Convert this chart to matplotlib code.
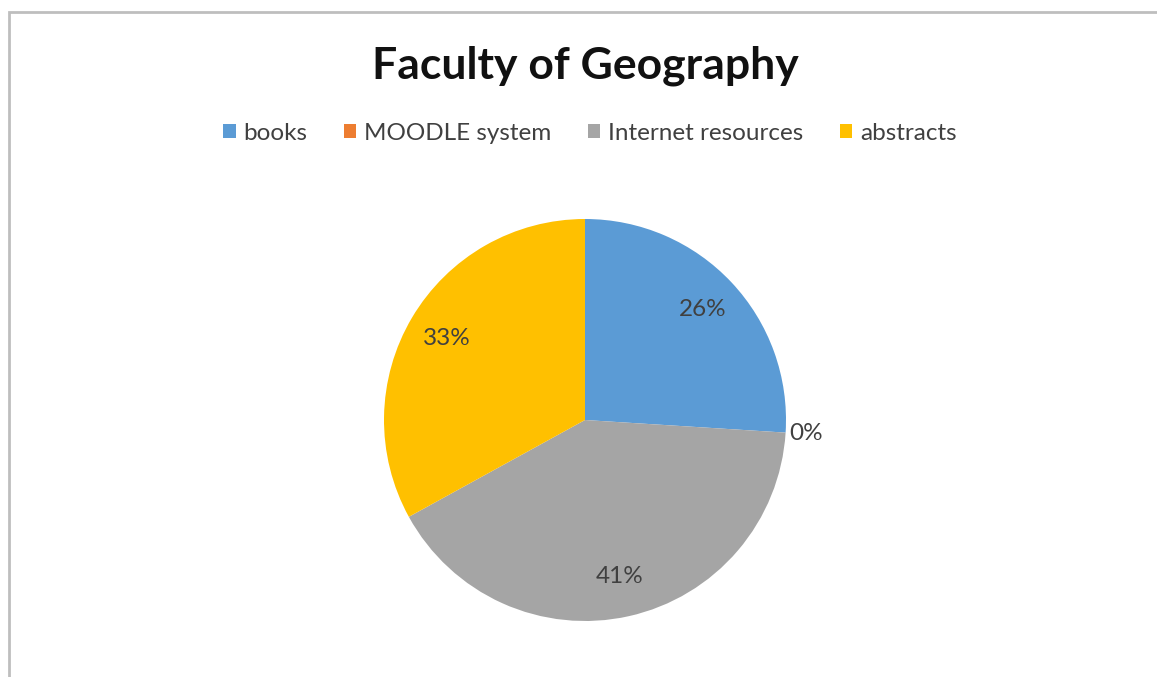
import matplotlib
matplotlib.use("Agg")
import matplotlib.pyplot as plt
import numpy as np
from matplotlib.patches import Rectangle

categories = ["books", "MOODLE system", "Internet resources", "abstracts"]
values = [26, 0, 41, 33]
colors = ["#5B9BD5", "#ED7D31", "#A5A5A5", "#FFC000"]
title = "Faculty of Geography"

plt.rcParams['font.family'] = ['Lato', 'DejaVu Sans']

W, H = 1157, 677
fig = plt.figure(figsize=(W / 100, H / 100), dpi=100)
fig.patch.set_facecolor("white")

# frame border (top and left visible)
fig.add_artist(Rectangle((9 / W, -0.1), 1.2, (H - 12) / H + 0.1, transform=fig.transFigure,
                         fill=False, edgecolor="#BEBEBE", linewidth=2))

cx, cy, r = 585, 420, 201
ax = fig.add_axes([(cx - r) / W, (H - cy - r) / H, 2 * r / W, 2 * r / H])
wedges, _ = ax.pie(values, colors=colors, startangle=90, counterclock=False,
                   radius=1.0, wedgeprops=dict(linewidth=0))
ax.set_xlim(-1, 1)
ax.set_ylim(-1, 1)
ax.set_aspect("equal")
ax.axis("off")

total = sum(values)
for w, v in zip(wedges, values):
    ang = np.deg2rad((w.theta1 + w.theta2) / 2)
    d = 0.8 if v > 0 else 1.1
    ax.text(d * np.cos(ang), d * np.sin(ang), f"{round(100 * v / total)}%",
            ha="center", va="center", fontsize=17.5, color="#404040", clip_on=False)

fig.text(cx / W, 1 - 78 / H, title, ha="center", va="baseline", fontsize=32,
         fontweight="bold", color="#111111")

handles = [Rectangle((0, 0), 1, 1, facecolor=c, edgecolor="none") for c in colors]
fig.legend(handles, categories, loc="center", bbox_to_anchor=(590 / W, 1 - 133 / H),
           ncol=4, frameon=False, fontsize=17.5, handlelength=0.5, handleheight=0.5,
           handletextpad=0.33, columnspacing=1.5, labelcolor="#404040")

fig.savefig("out.png", dpi=100, facecolor="white")
